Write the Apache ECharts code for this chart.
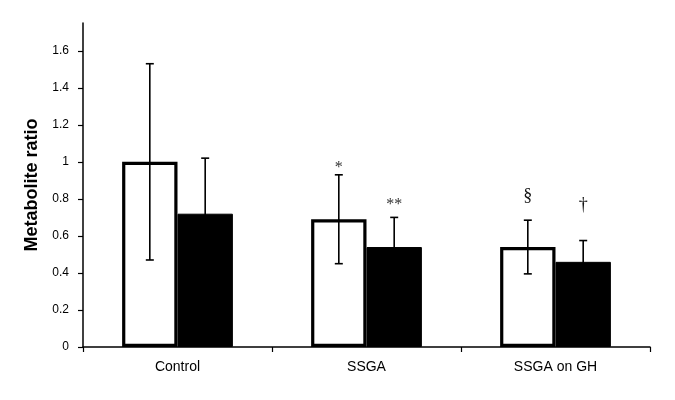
<!DOCTYPE html>
<html>
<head>
<meta charset="utf-8">
<script src="https://cdn.jsdelivr.net/npm/echarts@6/dist/echarts.min.js"></script>
<style>html,body{margin:0;padding:0;background:#fff}#c{width:675px;height:400px}</style>
</head>
<body>
<div id="c"></div>
<script>
// ---- data ----
var categories = ['Control', 'SSGA', 'SSGA on GH'];
var whiteMeans = [1.00, 0.69, 0.54];
var whiteSD    = [0.53, 0.24, 0.145];
var blackMeans = [0.72, 0.54, 0.46];
var blackSD    = [0.30, 0.16, 0.115];
var whiteMarks = ['', '*', '§'];
var whiteMarkY = [null, 0.968, 0.815];
var blackMarks = ['', '**', '†'];
var blackMarkY = [null, 0.768, 0.765];
var yTicks = [0, 0.2, 0.4, 0.6, 0.8, 1, 1.2, 1.4, 1.6];

var barFrac = 0.293;

function errSeries(means, sds, marks, markY, side) {
  var data = means.map(function (m, i) {
    return [i, m, sds[i], markY[i] == null ? -1 : markY[i]];
  });
  return {
    type: 'custom',
    z: 5,
    silent: true,
    data: data,
    renderItem: function (params, api) {
      var cat = api.value(0), mean = api.value(1), sd = api.value(2), my = api.value(3);
      var band = api.size([1, 0])[0];
      var off = band * barFrac / 2 * side;
      var x = api.coord([cat, mean])[0] + off;
      var yt = api.coord([cat, mean + sd])[1];
      var yb = api.coord([cat, mean - sd])[1];
      var cap = 4;
      var st = { stroke: '#000', lineWidth: 1.6 };
      var children = [
        { type: 'line', shape: { x1: x, y1: yt, x2: x, y2: yb }, style: st },
        { type: 'line', shape: { x1: x - cap, y1: yt, x2: x + cap, y2: yt }, style: st },
        { type: 'line', shape: { x1: x - cap, y1: yb, x2: x + cap, y2: yb }, style: st }
      ];
      var txt = marks[params.dataIndex];
      if (txt && my >= 0) {
        var isStar = txt.indexOf('*') >= 0;
        children.push({
          type: 'text',
          style: {
            text: txt, x: x, y: api.coord([cat, my])[1],
            align: 'center', verticalAlign: 'middle',
            fill: isStar ? '#333' : '#111',
            font: (isStar ? '16px' : '18px') + ' "Liberation Serif", serif'
          }
        });
      }
      return { type: 'group', children: children };
    }
  };
}

var chart = echarts.init(document.getElementById('c'), null, { renderer: 'canvas' });
chart.setOption({
  animation: false,
  backgroundColor: '#fff',
  grid: { left: 83, right: 25, top: 23, bottom: 53 },
  xAxis: {
    type: 'category',
    data: categories,
    axisLine: { lineStyle: { color: '#000', width: 1.5 } },
    axisTick: { show: true, length: 5, lineStyle: { color: '#000', width: 1.2 } },
    axisLabel: { color: '#000', fontSize: 14, margin: 13, fontFamily: '"Liberation Sans", Arial, sans-serif' },
    splitLine: { show: false }
  },
  yAxis: {
    type: 'value',
    min: 0, max: 1.75, interval: 0.2,
    name: 'Metabolite ratio',
    nameLocation: 'middle',
    nameGap: 39,
    nameTextStyle: { color: '#000', fontSize: 18, fontWeight: 'bold', fontFamily: '"Liberation Sans", Arial, sans-serif' },
    axisLine: { show: true, lineStyle: { color: '#000', width: 1.5 } },
    axisTick: { show: true, length: 5, customValues: yTicks, lineStyle: { color: '#000', width: 1.2 } },
    axisLabel: { color: '#000', fontSize: 12, margin: 14, customValues: yTicks, fontFamily: '"Liberation Sans", Arial, sans-serif' },
    splitLine: { show: false }
  },
  series: [
    {
      name: 'Series 1', type: 'bar', data: whiteMeans,
      barWidth: (barFrac * 100) + '%', barGap: '0%',
      itemStyle: { color: '#fff', borderColor: '#000', borderWidth: 3.2 },
      silent: true
    },
    {
      name: 'Series 2', type: 'bar', data: blackMeans,
      barWidth: (barFrac * 100) + '%', barGap: '0%',
      itemStyle: { color: '#000', borderColor: '#000', borderWidth: 1 },
      silent: true
    },
    errSeries(whiteMeans, whiteSD, whiteMarks, whiteMarkY, -1),
    errSeries(blackMeans, blackSD, blackMarks, blackMarkY, 1)
  ]
});
</script>
</body>
</html>
